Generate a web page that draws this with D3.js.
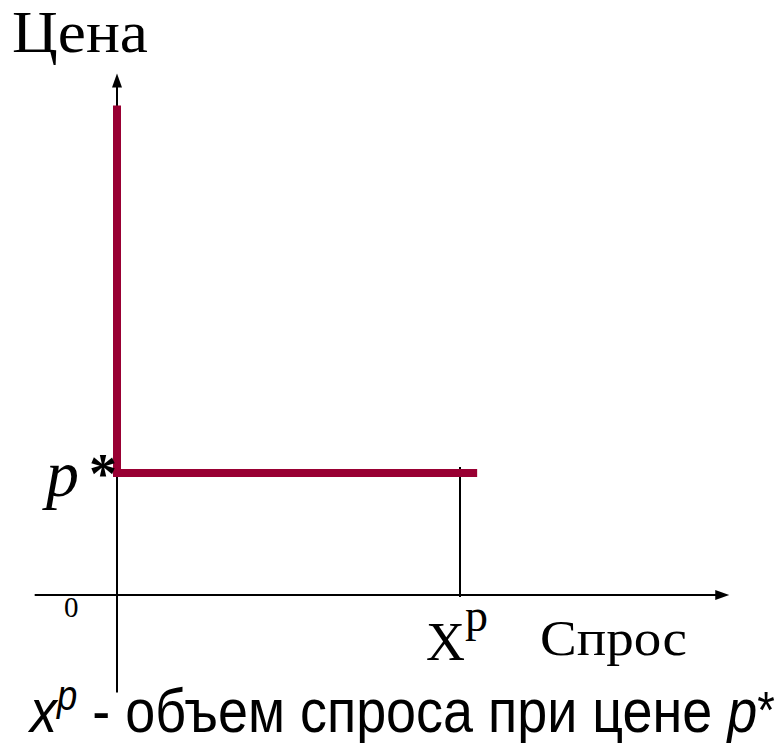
<!DOCTYPE html>
<html>
<head>
<meta charset="utf-8">
<script src="https://cdn.jsdelivr.net/npm/d3@7"></script>
<style>
  body { margin: 0; background: #fff; }
  svg { display: block; }
</style>
</head>
<body>
<script>
const width = 779;
const height = 743;

// demand curve: price axis values and quantity values of the corner path
const pathQuantity = [0, 0, 10.5];
const pathPrice = [16.05, 4, 4];
// marked points
const pStar = 4;
const xP = 10;
// axis extents
const qDomain = [-2.4, 17.85];
const pDomain = [-3.2, 17.1];
// labels
const priceTitle = "Цена";
const qtyTitle = "Спрос";
const zeroLabel = "0";
const caption = ["x", "p", " - объем спроса при цене ", "p", "*"];

const color = "#990033";

const x = d3.scaleLinear().domain([0, 10]).range([117, 460]);
const y = d3.scaleLinear().domain([0, 4]).range([595, 473]);

const svg = d3.select("body").append("svg")
  .attr("width", width)
  .attr("height", height);

// axes lines
svg.append("line")
  .attr("x1", x(qDomain[0])).attr("x2", x(qDomain[1]) - 10)
  .attr("y1", y(0)).attr("y2", y(0))
  .attr("stroke", "#000").attr("stroke-width", 2);

svg.append("line")
  .attr("x1", x(0)).attr("x2", x(0))
  .attr("y1", y(pDomain[0])).attr("y2", y(pDomain[1]) + 10)
  .attr("stroke", "#000").attr("stroke-width", 2);

// arrow heads
const xe = x(qDomain[1]), ye = y(pDomain[1]);
svg.append("path")
  .attr("d", `M${xe},${y(0)} L${xe - 14},${y(0) - 5} L${xe - 14},${y(0) + 5} Z`)
  .attr("fill", "#000");
svg.append("path")
  .attr("d", `M${x(0)},${ye} L${x(0) - 5},${ye + 14} L${x(0) + 5},${ye + 14} Z`)
  .attr("fill", "#000");

// vertical guide at x^p
svg.append("line")
  .attr("x1", x(xP)).attr("x2", x(xP))
  .attr("y1", y(pStar) - 6).attr("y2", y(0) + 2)
  .attr("stroke", "#000").attr("stroke-width", 2);

// demand curve
const line = d3.line()
  .x(d => x(d[0]))
  .y(d => y(d[1]));

svg.append("path")
  .datum(d3.zip(pathQuantity, pathPrice))
  .attr("d", line)
  .attr("fill", "none")
  .attr("stroke", color)
  .attr("stroke-width", 8)
  .attr("stroke-linejoin", "miter");

// texts
svg.append("text")
  .attr("x", 12).attr("y", 52)
  .attr("font-family", "Liberation Serif")
  .attr("font-size", 60)
  .attr("textLength", 136)
  .attr("lengthAdjust", "spacingAndGlyphs")
  .text(priceTitle);

svg.append("text")
  .attr("x", 46).attr("y", y(pStar) + 23)
  .attr("font-family", "Liberation Serif")
  .attr("font-size", 66)
  .attr("font-style", "italic")
  .text("p");
svg.append("text")
  .attr("x", 89).attr("y", y(pStar) + 20)
  .attr("font-family", "Liberation Serif")
  .attr("font-weight", "bold")
  .attr("font-size", 56)
  .text("*");

svg.append("text")
  .attr("x", 64).attr("y", y(0) + 22)
  .attr("font-family", "Liberation Serif")
  .attr("font-size", 29)
  .text(zeroLabel);

const xl = svg.append("text")
  .attr("x", 426).attr("y", 660)
  .attr("font-family", "Liberation Serif")
  .attr("font-size", 54);
xl.append("tspan").text("X");
xl.append("tspan").attr("font-size", 46).attr("dy", -29).text("p");

svg.append("text")
  .attr("x", 540).attr("y", 655)
  .attr("font-family", "Liberation Serif")
  .attr("font-size", 50)
  .attr("textLength", 147)
  .attr("lengthAdjust", "spacingAndGlyphs")
  .text(qtyTitle);

const cap = svg.append("text")
  .attr("font-family", "Liberation Sans")
  .attr("font-size", 62);
cap.append("tspan").attr("font-style", "italic").text(caption[0]);
cap.append("tspan").attr("font-style", "italic").attr("font-size", 42).attr("dy", -22).text(caption[1]);
cap.append("tspan").attr("dy", 22).text(caption[2]);
cap.append("tspan").attr("font-style", "italic").text(caption[3]);
cap.append("tspan").attr("font-size", 52).attr("dy", -4).text(caption[4]);
const capW = cap.node().getComputedTextLength();
cap.attr("transform", `translate(30,732) scale(${745 / capW},1)`);
</script>
</body>
</html>
